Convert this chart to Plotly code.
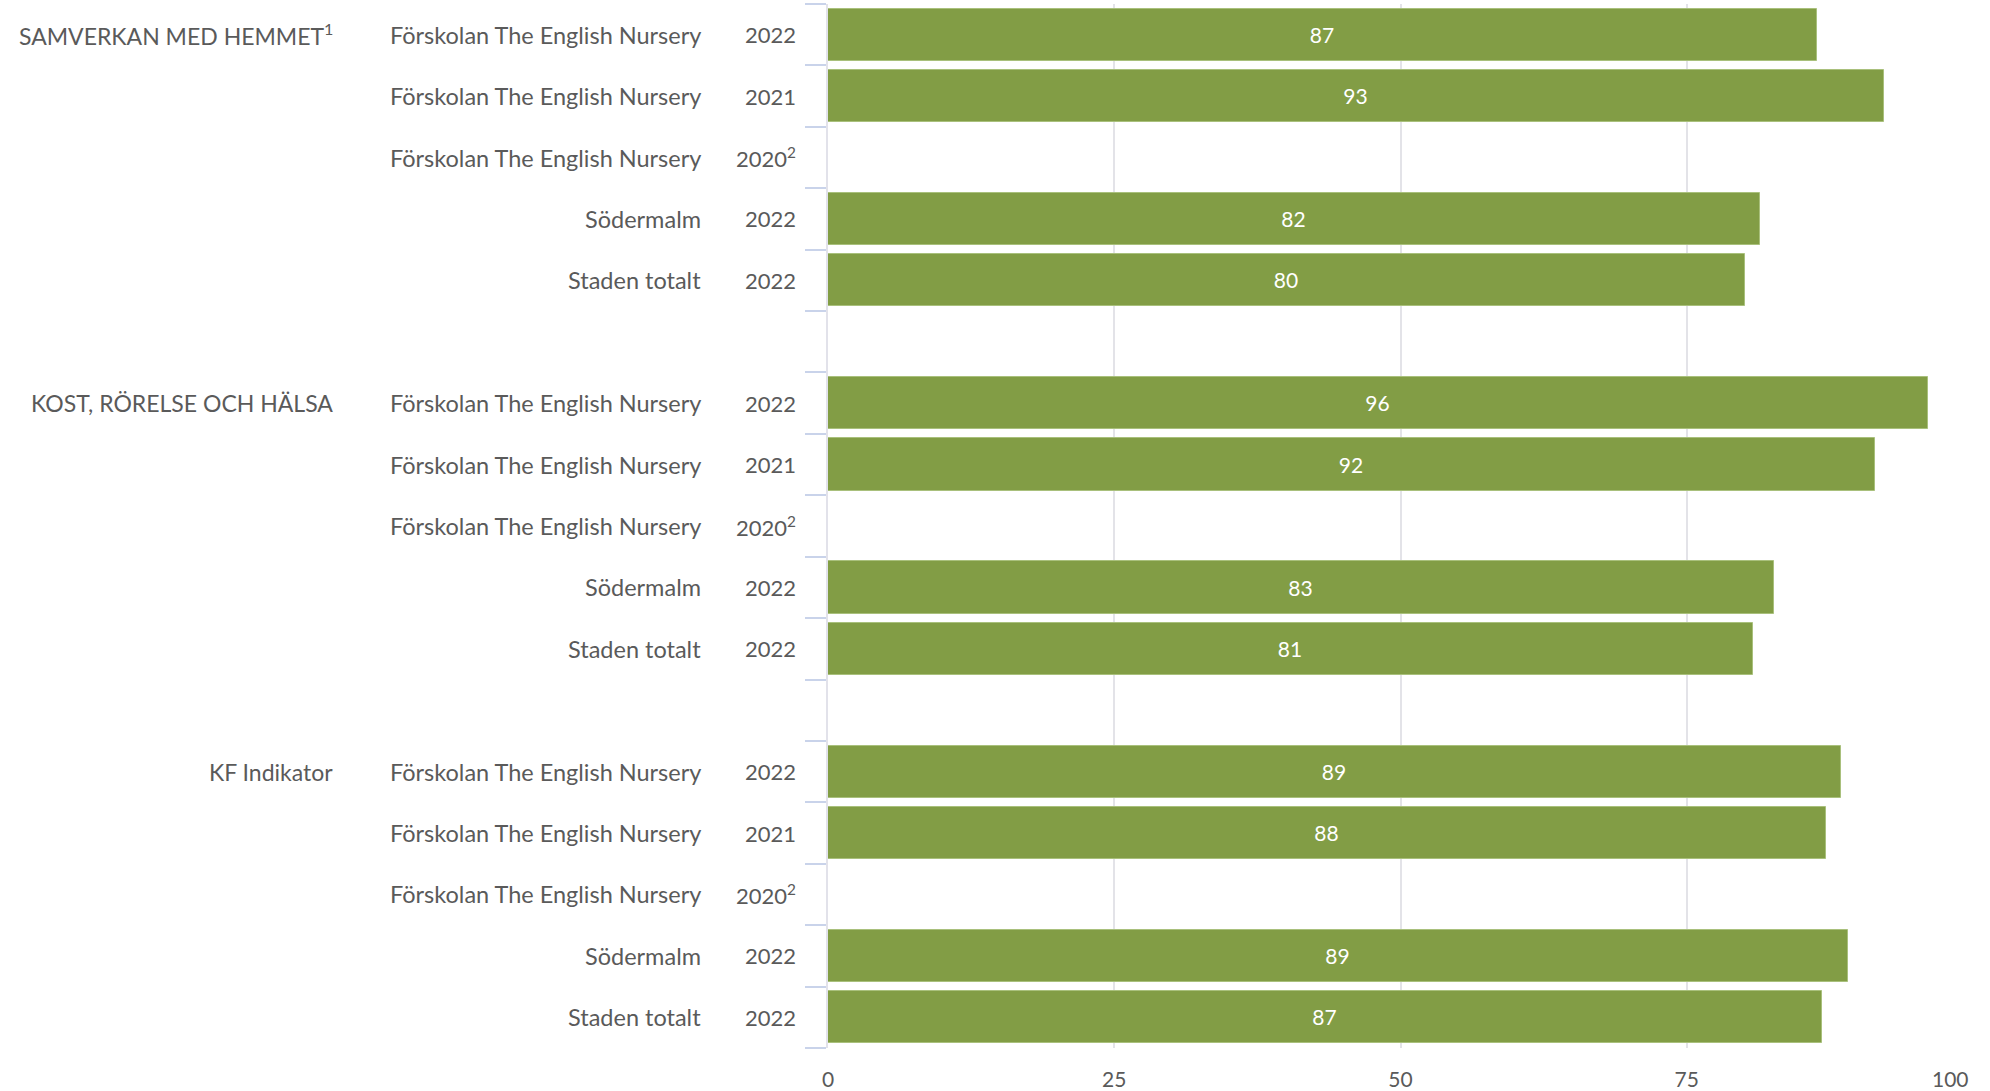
import plotly.graph_objects as go

# ---- data ----
groups = ["SAMVERKAN MED HEMMET<sup>1</sup>", "KOST, RÖRELSE OCH HÄLSA", "KF Indikator"]
units = ["Förskolan The English Nursery", "Förskolan The English Nursery",
         "Förskolan The English Nursery", "Södermalm", "Staden totalt"]
years = ["2022", "2021", "2020<sup>2</sup>", "2022", "2022"]

samverkan_values = [86.4, 92.2, None, 81.4, 80.1]
kost_values = [96.1, 91.4, None, 82.6, 80.8]
kf_values = [88.5, 87.2, None, 89.1, 86.8]

samverkan_labels = ["87", "93", None, "82", "80"]
kost_labels = ["96", "92", None, "83", "81"]
kf_labels = ["89", "88", None, "89", "87"]

x_ticks = [0, 25, 50, 75, 100]

group_values = [samverkan_values, kost_values, kf_values]
group_labels = [samverkan_labels, kost_labels, kf_labels]

# ---- build ----
rows_per_group = len(units) + 1  # one empty spacer row between groups
ys, xs, txt = [], [], []
for g, (vals, labs) in enumerate(zip(group_values, group_labels)):
    for i, (v, l) in enumerate(zip(vals, labs)):
        if v is None:
            continue
        ys.append(g * rows_per_group + i)
        xs.append(v)
        txt.append(l)
n_rows = rows_per_group * len(groups) - 1

BAR = "#829d45"
TEXT = "#5a5a5a"
FONT = "Lato"

fig = go.Figure()
fig.add_trace(go.Bar(
    x=xs, y=ys, orientation="h", width=0.85,
    marker=dict(color=BAR, line=dict(color="#a9c07c", width=1)),
    text=txt, textposition="inside", insidetextanchor="middle",
    textfont=dict(color="white", size=21, family=FONT),
    constraintext="none", hoverinfo="skip",
))

annotations = []
dom_px = 1973 - 828
def px(p):
    return (p - 828) / dom_px

for g, gname in enumerate(groups):
    annotations.append(dict(xref="paper", yref="y", x=px(335), y=g * rows_per_group,
                            text=gname, showarrow=False, xanchor="right", yanchor="middle",
                            font=dict(size=23, color=TEXT, family=FONT)))
    for i, (u, yr) in enumerate(zip(units, years)):
        yy = g * rows_per_group + i
        annotations.append(dict(xref="paper", yref="y", x=px(703), y=yy, text=u,
                                showarrow=False, xanchor="right", yanchor="middle",
                                font=dict(size=23.5, color=TEXT, family=FONT)))
        annotations.append(dict(xref="paper", yref="y", x=px(798), y=yy, text=yr,
                                showarrow=False, xanchor="right", yanchor="middle",
                                font=dict(size=22, color=TEXT, family=FONT)))

# last x tick label drawn pulled inside the page edge, as in the original
annotations.append(dict(xref="x", yref="paper", x=x_ticks[-1], y=0, text=str(x_ticks[-1]),
                        showarrow=False, xanchor="right", yanchor="top", xshift=-2, yshift=-16,
                        font=dict(size=21, color=TEXT, family=FONT)))

fig.update_layout(
    width=1990, height=1091,
    margin=dict(l=828, r=17, t=4, b=43, autoexpand=False),
    paper_bgcolor="white", plot_bgcolor="white",
    showlegend=False,
    bargap=0,
    annotations=annotations,
    xaxis=dict(range=[0, 100], tickvals=x_ticks,
               ticktext=[str(t) for t in x_ticks[:-1]] + [""],
               showgrid=True, gridcolor="#e3e3e8", gridwidth=2, zeroline=False,
               showline=False, ticks="outside", ticklen=13, tickcolor="rgba(0,0,0,0)",
               tickfont=dict(size=21, color=TEXT, family=FONT), fixedrange=True,
               automargin=False),
    yaxis=dict(range=[n_rows - 0.5, -0.5], tickmode="array",
               tickvals=[k - 0.5 for k in range(n_rows + 1)], showticklabels=False,
               ticks="outside", ticklen=21, tickwidth=2, tickcolor="#c9d3ea",
               showgrid=False, zeroline=False, showline=True, linecolor="#e2e2ea",
               linewidth=2, automargin=False),
)

fig.write_html("out.html", config={"displayModeBar": False},
               post_script="document.body.style.margin='0';document.body.style.overflow='hidden';")
